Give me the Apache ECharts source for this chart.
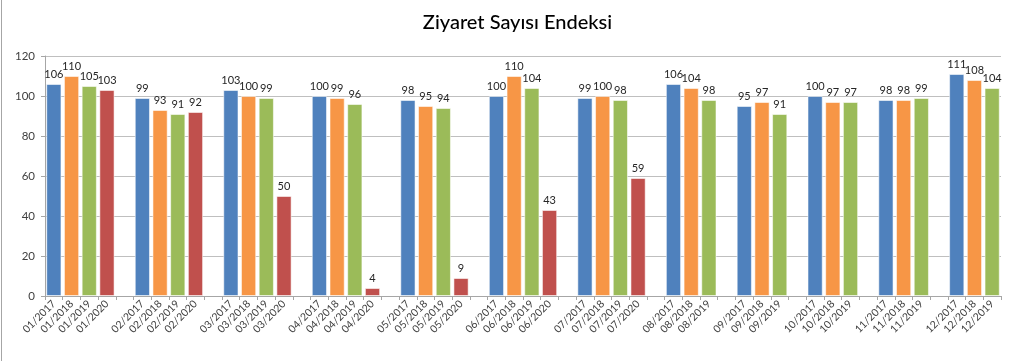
<!DOCTYPE html>
<html>
<head>
<meta charset="utf-8">
<script src="https://cdn.jsdelivr.net/npm/echarts@6/dist/echarts.min.js"></script>
<style>html,body{margin:0;padding:0;background:#fff;}#c{width:1035px;height:361px;}</style>
</head>
<body>
<div id="c"></div>
<script>
var months = ['01','02','03','04','05','06','07','08','09','10','11','12'];
var years = ['2017','2018','2019','2020'];
var v2017 = [106, 99, 103, 100, 98, 100, 99, 106, 95, 100, 98, 111];
var v2018 = [110, 93, 100, 99, 95, 110, 100, 104, 97, 97, 98, 108];
var v2019 = [105, 91, 99, 96, 94, 104, 98, 98, 91, 97, 99, 104];
var v2020 = [103, 92, 50, 4, 9, 43, 59, null, null, null, null, null];
var yTicks = [0, 20, 40, 60, 80, 100, 120];
var yearColors = ['#4F81BD', '#F79646', '#9BBB59', '#C0504D'];

var series = [v2017, v2018, v2019, v2020];
var cats = [];
var data = [];
months.forEach(function (m, i) {
  years.forEach(function (y, k) {
    var val = series[k][i];
    if (val === null || val === undefined) return;
    cats.push(m + '/' + y);
    data.push({ value: val, itemStyle: { color: yearColors[k] } });
  });
  if (i < months.length - 1) {
    cats.push('');
    data.push(null);
  }
});

var chart = echarts.init(document.getElementById('c'), null, { renderer: 'canvas' });
chart.setOption({
  animation: false,
  backgroundColor: '#ffffff',
  title: {
    text: 'Ziyaret Sayısı Endeksi',
    left: 'center',
    top: 8,
    textStyle: { fontFamily: 'Lato', fontSize: 20, fontWeight: 500, color: '#000' }
  },
  graphic: [{
    type: 'line',
    shape: { x1: 1.5, y1: 0, x2: 1.5, y2: 361 },
    style: { stroke: '#a6a6a6', lineWidth: 1 }
  }],
  grid: { left: 45, right: 34, top: 56, bottom: 65, containLabel: false },
  xAxis: {
    type: 'category',
    data: cats,
    axisLine: { lineStyle: { color: '#a6a6a6' } },
    axisTick: { show: true, interval: 0, length: 4, lineStyle: { color: '#a6a6a6' } },
    axisLabel: {
      interval: 0, rotate: 45, margin: 6,
      fontFamily: 'Lato', fontSize: 10.5, color: '#404040'
    }
  },
  yAxis: {
    type: 'value',
    min: 0, max: 120, interval: 20,
    axisLine: { show: true, lineStyle: { color: '#a6a6a6' } },
    axisTick: { show: true, length: 4, lineStyle: { color: '#a6a6a6' } },
    splitLine: { lineStyle: { color: '#bfbfbf' } },
    axisLabel: { margin: 10, fontFamily: 'Lato', fontSize: 11.5, color: '#404040' }
  },
  series: [{
    type: 'bar',
    data: data,
    barCategoryGap: '14%',
    itemStyle: { borderColor: 'rgba(255,255,255,0.55)', borderWidth: 1 },
    label: {
      show: true, position: 'top', distance: 4,
      fontFamily: 'Lato', fontSize: 11, color: '#262626'
    }
  }]
});
</script>
</body>
</html>
